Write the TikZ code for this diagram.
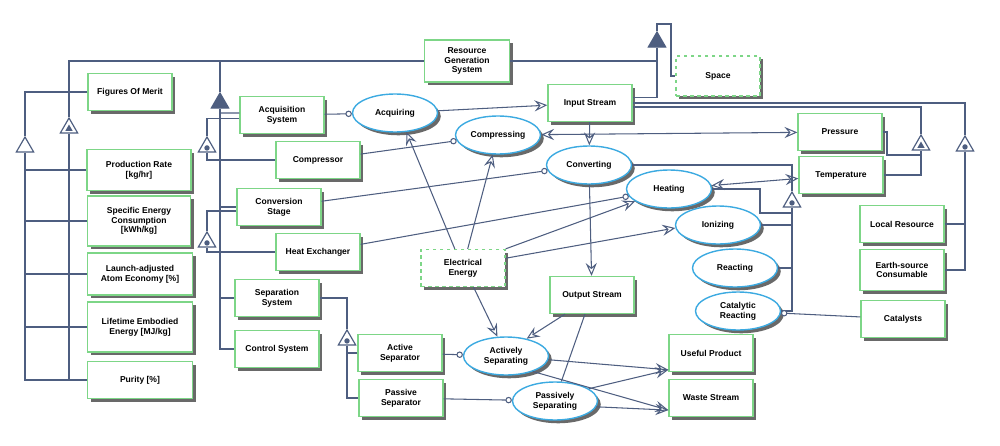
\documentclass[tikz,border=0pt]{standalone}
\usepackage{fontspec}
\setmainfont{Liberation Sans}
\usepackage{xcolor}
\usepackage{tikz}
\usetikzlibrary{arrows.meta,shapes.geometric,shadows}
\definecolor{objgreen}{RGB}{125,214,135}
\definecolor{procblue}{RGB}{60,170,225}
\definecolor{linkc}{RGB}{78,94,128}
\definecolor{shadowc}{RGB}{105,105,105}
\tikzset{
  boxshadow/.style={drop shadow={shadow xshift=2.8pt, shadow yshift=-2.8pt, fill=shadowc, opacity=1}},
  object/.style={draw=objgreen, line width=1.1pt, fill=white, boxshadow, minimum width=2.52cm, minimum height=1.11cm, align=center, inner sep=1pt},
  envobject/.style={object, dashed},
  process/.style={draw=procblue, ellipse, line width=1.2pt, fill=white, boxshadow, minimum width=2.55cm, minimum height=1.14cm, align=center, inner sep=1pt},
  oplink/.style={draw=linkc, line width=0.9pt},
  instr/.style={oplink, -{Circle[fill=white, length=5.5pt]}},
  result/.style={oplink, -{Stealth[open, length=11pt, width=9.5pt, inset=4pt]}},
  effect/.style={oplink, {Stealth[open, length=11pt, width=9.5pt, inset=4pt]}-{Stealth[open, length=11pt, width=9.5pt, inset=4pt]}},
  tri/.style={regular polygon, regular polygon sides=3, draw=linkc, line width=1pt, fill=white, minimum size=0.6cm, inner sep=0pt},
  aggtri/.style={tri, fill=linkc}
}

\begin{document}
\begin{tikzpicture}[x=0.03cm, y=-0.03cm, font=\bfseries\fontsize{7.3}{8.3}\selectfont]
  \useasboundingbox (0,0) rectangle (1000,446);

  % objects
  \node[object] (fom) at (130,92) {Figures Of Merit};
  \node[object, minimum width=3.12cm, minimum height=1.23cm] (prodrate) at (139,170) {Production Rate\\{[kg/hr]}};
  \node[object, minimum width=3.09cm, minimum height=1.5cm] (specenergy) at (139,221) {Specific Energy\\Consumption\\{[kWh/kg]}};
  \node[object, minimum width=3.15cm, minimum height=1.26cm] (atomecon) at (140,274) {Launch-adjusted\\Atom Economy [\%]};
  \node[object, minimum width=3.15cm, minimum height=1.5cm] (embenergy) at (140,327) {Lifetime Embodied\\Energy [MJ/kg]};
  \node[object, minimum width=3.15cm] (purity) at (140,380) {Purity [\%]};
  \node[object, minimum width=2.55cm, minimum height=1.26cm] (rgs) at (467,61) {Resource\\Generation\\System};
  \node[envobject, minimum height=1.2cm] (space) at (718,76) {Space};
  \node[object] (acqsys) at (282,115) {Acquisition\\System};
  \node[object] (compressor) at (318,160) {Compressor};
  \node[object] (convstage) at (279,207) {Conversion\\Stage};
  \node[object] (heatex) at (318,252) {Heat Exchanger};
  \node[object] (sepsys) at (277,298) {Separation\\System};
  \node[object] (ctrlsys) at (277,349) {Control System};
  \node[envobject] (elec) at (463,268) {Electrical\\Energy};
  \node[object] (instream) at (590,103) {Input Stream};
  \node[object] (outstream) at (592,295) {Output Stream};
  \node[object] (actsep) at (400,353) {Active\\Separator};
  \node[object] (passsep) at (401,398) {Passive\\Separator};
  \node[object] (useful) at (711,353) {Useful Product};
  \node[object] (waste) at (711,398) {Waste Stream};
  \node[object] (pressure) at (840,132) {Pressure};
  \node[object] (temperature) at (841,175) {Temperature};
  \node[object] (localres) at (902,224) {Local Resource};
  \node[object, minimum height=1.23cm] (earthcons) at (902,270) {Earth-source\\Consumable};
  \node[object] (catalysts) at (903,319) {Catalysts};

  % processes
  \node[process] (acquiring) at (395,113) {Acquiring};
  \node[process] (compressing) at (498,135) {Compressing};
  \node[process] (converting) at (589,165) {Converting};
  \node[process] (heating) at (669,189) {Heating};
  \node[process] (ionizing) at (718,225) {Ionizing};
  \node[process] (reacting) at (735,268) {Reacting};
  \node[process] (catreacting) at (738,311) {Catalytic\\Reacting};
  \node[process] (actseparating) at (506,356) {Actively\\Separating};
  \node[process] (passseparating) at (555,401) {Passively\\Separating};

  % structural triangles
  \node[tri] (gen1) at (25,147) {};
  \node[tri] (exh1) at (69,128) {};
  \node[aggtri] (agg1) at (220,103) {};
  \node[tri] (inst1) at (207,147) {};
  \node[tri] (inst2) at (207,242) {};
  \node[tri] (inst3) at (347,340) {};
  \node[aggtri] (agg2) at (657,42) {};
  \node[tri] (exh2) at (921,145) {};
  \node[tri] (inst4) at (965,146) {};
  \node[tri] (inst5) at (792,202) {};
  \foreach \t in {exh1,exh2}
    \node[regular polygon, regular polygon sides=3, fill=linkc, minimum size=0.25cm, inner sep=0pt] at ([yshift=-0.6pt]\t.center) {};
  \foreach \t in {inst1,inst2,inst3,inst4,inst5}
    \fill[linkc] ([yshift=-0.8pt]\t.center) circle (2.3pt);

  % structural links
  \draw[oplink] (fom.west) -| (gen1.north);
  \draw[oplink] (gen1.south) |- (purity.west);
  \foreach \n in {prodrate,specenergy,atomecon,embenergy}
    \draw[oplink] (gen1.south |- \n.west) -- (\n.west);
  \draw[oplink] (exh1.north) |- (rgs.west);
  \draw[oplink] (exh1.south) -- (exh1.south |- purity.west);
  \draw[oplink] (agg1.north) -- (agg1.north |- rgs.west);
  \draw[oplink] (agg1.south) |- (ctrlsys.west);
  \draw[oplink] (agg1.south |- acqsys.west) ++(0,-2) -- ([yshift=1.7pt]acqsys.west);
  \foreach \n in {convstage,sepsys}
    \draw[oplink] (agg1.south |- \n.west) -- (\n.west);
  \draw[oplink] (inst1.north) |- ([yshift=-2.6pt]acqsys.west);
  \draw[oplink] (inst1.south) |- (compressor.west);
  \draw[oplink] (inst2.north) |- ([yshift=-3.4pt]convstage.west);
  \draw[oplink] (inst2.south) |- (heatex.west);
  \draw[oplink] (inst3.north) |- (sepsys.east);
  \draw[oplink] (inst3.south) |- (passsep.west);
  \draw[oplink] (actsep.west) -- (actsep.west -| inst3.south);
  \coordinate (spacebend) at (671,24);
  \draw[oplink] (agg2.north) |- (spacebend) |- (space.west);
  \draw[oplink] (rgs.east) -- (rgs.east -| agg2.south);
  \draw[oplink] (agg2.south) |- ([yshift=4.3pt]instream.east);
  \draw[oplink] (exh2.north) |- ([yshift=-3.4pt]instream.east);
  \draw[oplink] (exh2.south) |- (temperature.east);
  \coordinate (pressbend) at (887,155);
  \draw[oplink] (pressure.east) -| (pressbend) -- (pressbend -| exh2.south);
  \draw[oplink] (inst4.north) |- (instream.east);
  \draw[oplink] (inst4.south) |- (earthcons.east);
  \draw[oplink] (localres.east) -- (localres.east -| inst4.south);
  \draw[oplink] (converting.east) -| (inst5.north);
  \draw[oplink] (inst5.south) |- (catreacting.east);
  \coordinate (heatbend) at (760,213);
  \draw[oplink] (heating.east) -| (heatbend) -- (heatbend -| inst5.south);
  \foreach \n in {ionizing,reacting}
    \draw[oplink] (\n.east) -- (\n.east -| inst5.south);

  % procedural links
  \draw[instr] (acqsys) -- (acquiring);
  \draw[result] (acquiring) -- (instream);
  \draw[instr] (compressor) -- (compressing);
  \draw[effect] (compressing) -- (pressure);
  \draw[result] (instream) -- (converting);
  \draw[result] (converting) -- (outstream);
  \draw[instr] (convstage) -- (converting);
  \draw[instr] (heatex) -- (heating);
  \draw[effect] (heating) -- (temperature);
  \draw[result] ([xshift=-7pt]elec.north) -- (acquiring.301);
  \draw[result] ([xshift=4pt]elec.north) -- (compressing.255);
  \draw[result] (elec.north east) -- (heating.200);
  \draw[result] ([yshift=-8pt]elec.north east) -- (ionizing.184);
  \draw[result] ([xshift=9pt]elec.south) -- (actseparating.114);
  \draw[result] ([xshift=-23pt]outstream.south) -- (actseparating.40);
  \draw[oplink] ([xshift=-6pt]outstream.south) -- (passseparating.72);
  \draw[result] (actseparating.355) -- ([yshift=2pt]useful.south west);
  \draw[result] (actseparating.330) -- ([yshift=6pt]waste.south west);
  \draw[result] (passseparating.20) -- ([yshift=2pt]useful.south west);
  \draw[result] (passseparating.352) -- ([yshift=6pt]waste.south west);
  \draw[instr] (actsep) -- (actseparating);
  \draw[instr] (passsep) -- (passseparating);
  \draw[instr] (catalysts) -- (catreacting);
\end{tikzpicture}
\end{document}
